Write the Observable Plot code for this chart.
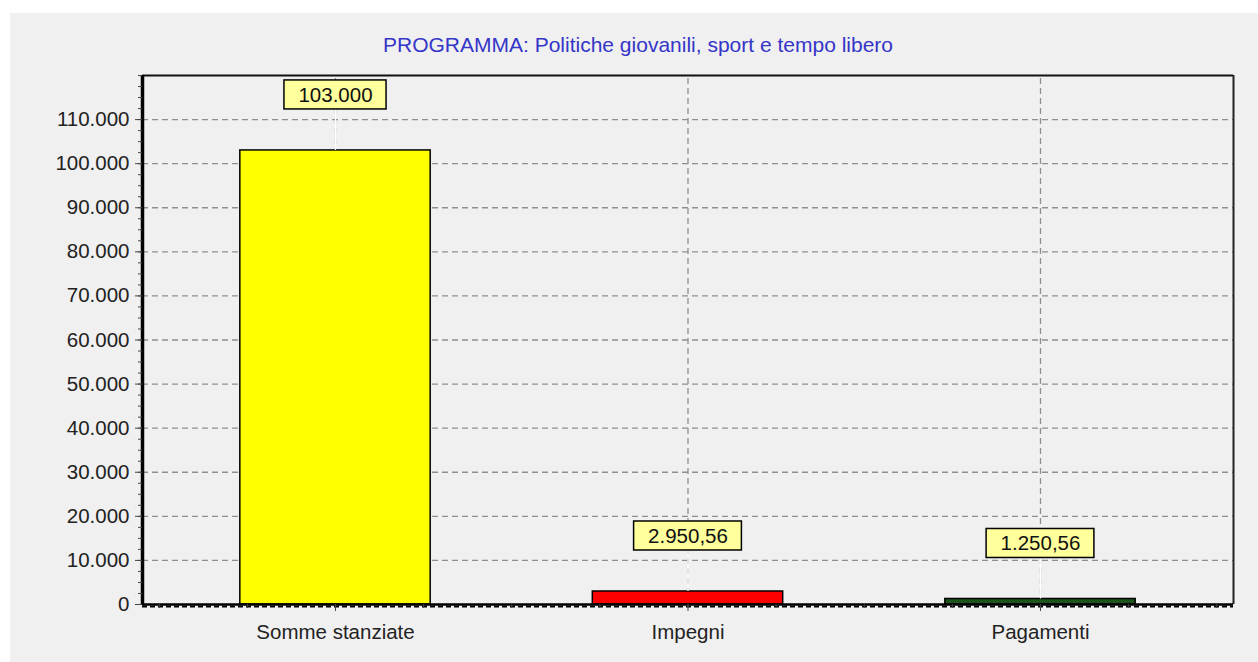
<!DOCTYPE html>
<html>
<head>
<meta charset="utf-8">
<script src="https://cdn.jsdelivr.net/npm/d3@7"></script>
<script src="https://cdn.jsdelivr.net/npm/@observablehq/plot@0.6"></script>
<style>
  html, body { margin: 0; padding: 0; background: #ffffff; }
  #wrap { position: relative; width: 1258px; height: 662px; overflow: hidden; font-family: "Liberation Sans", Arial, sans-serif; }
  #panel { position: absolute; left: 10px; top: 13px; right: 0; bottom: 0; background: #f0f0f0; }
  #title { position: relative; height: 60px; box-sizing: border-box; padding-top: 35px; line-height: 20px; text-align: center; font-size: 21px; color: #3535c8; padding-left: 18px; }
  #chart { position: relative; }
  #chart svg { display: block; }
</style>
</head>
<body>
<div id="wrap">
  <div id="panel"></div>
  <div id="title">PROGRAMMA: Politiche giovanili, sport e tempo libero</div>
  <div id="chart"></div>
</div>
<script>
// ---- data ----
const categories = ["Somme stanziate", "Impegni", "Pagamenti"];
const values = [103000, 2950.56, 1250.56];
const barColors = ["#ffff00", "#ff0000", "#1d561d"];
const yTicks = [0, 10000, 20000, 30000, 40000, 50000, 60000, 70000, 80000, 90000, 100000, 110000];
const yMax = 120000;

// ---- layout ----
const W = 1258, H = 602;
const mTop = 15, mBottom = 58, mLeft = 142, mRight = 25;
const xDomain = [-0.5475, 2.5475];
const halfBar = 0.27;
const kx = (xDomain[1] - xDomain[0]) / (W - mLeft - mRight); // data units per px
const ky = yMax / (H - mTop - mBottom);

const it = d3.formatLocale({decimal: ",", thousands: ".", grouping: [3], currency: ["€", ""]});
const fmtInt = it.format(",.0f");
const fmtDec = it.format(",.2f");
const fmtVal = v => Number.isInteger(v) ? fmtInt(v) : fmtDec(v);

const canvas = document.createElement("canvas");
const ctx = canvas.getContext("2d");
ctx.font = "20.5px 'Liberation Sans'";

const data = categories.map((c, i) => ({
  i, cat: c, v: values[i], color: barColors[i], label: fmtVal(values[i]),
  w: ctx.measureText(fmtVal(values[i])).width + 28
}));

const minorY = d3.range(0, yMax + 1, 2500);
const minorX = d3.range(-0.5, 2.51, 0.25);
const dash = "6,4";
const gridColor = "#8f8f8f";

const chart = Plot.plot({
  width: W, height: H,
  marginTop: mTop, marginBottom: mBottom, marginLeft: mLeft, marginRight: mRight,
  x: {type: "linear", domain: xDomain},
  y: {domain: [0, yMax]},
  color: {type: "identity"},
  style: {background: "transparent", fontFamily: "'Liberation Sans', Arial, sans-serif", fontSize: "20.5px", color: "#222"},
  marks: [
    Plot.ruleY(yTicks.filter(d => d > 0), {stroke: gridColor, strokeWidth: 1.3, strokeDasharray: dash}),
    Plot.ruleX(data, {x: "i", y1: 0, y2: yMax, stroke: gridColor, strokeWidth: 1.3, strokeDasharray: dash}),
    Plot.rect(data, {x1: d => d.i - halfBar, x2: d => d.i + halfBar, y1: 0, y2: "v", fill: "color", stroke: "#000", strokeWidth: 1.5}),
    Plot.ruleX(data, {x: "i", y1: "v", y2: d => d.v + 41 * ky, stroke: "#ffffff", strokeWidth: 1.3}),
    Plot.rect(data, {x1: d => d.i - d.w / 2 * kx, x2: d => d.i + d.w / 2 * kx, y1: d => d.v + 41 * ky, y2: d => d.v + 70 * ky, fill: "#ffff9c", stroke: "#000", strokeWidth: 1.5}),
    Plot.text(data, {x: "i", y: d => d.v + 55.5 * ky, text: "label", fill: "#111", fontSize: 20.5}),
    // frame
    Plot.ruleY([yMax], {stroke: "#111", strokeWidth: 2}),
    Plot.ruleX([xDomain[1]], {y1: 0, y2: yMax, stroke: "#222", strokeWidth: 2}),
    Plot.ruleX([xDomain[0]], {y1: 0, y2: yMax, stroke: "#000", strokeWidth: 3.5}),
    Plot.ruleY([0], {stroke: "#000", strokeWidth: 2.5}),
    Plot.ruleY([0], {stroke: "#000", strokeWidth: 2, strokeDasharray: "5,3", dy: 2}),
    // axes
    Plot.axisY(minorY, {tickSize: 4, tickFormat: () => "", label: null, stroke: "#444"}),
    Plot.axisY({ticks: yTicks, tickSize: 7, tickPadding: 6, tickFormat: fmtInt, label: null, fill: "#222", stroke: "#444"}),
    Plot.axisX(minorX, {tickSize: 4, tickFormat: () => "", label: null, stroke: "#444"}),
    Plot.axisX({ticks: [0, 1, 2], tickSize: 7, tickPadding: 13, tickFormat: i => categories[i], label: null, fill: "#222", stroke: "#444"})
  ]
});
document.getElementById("chart").appendChild(chart);
</script>
</body>
</html>
